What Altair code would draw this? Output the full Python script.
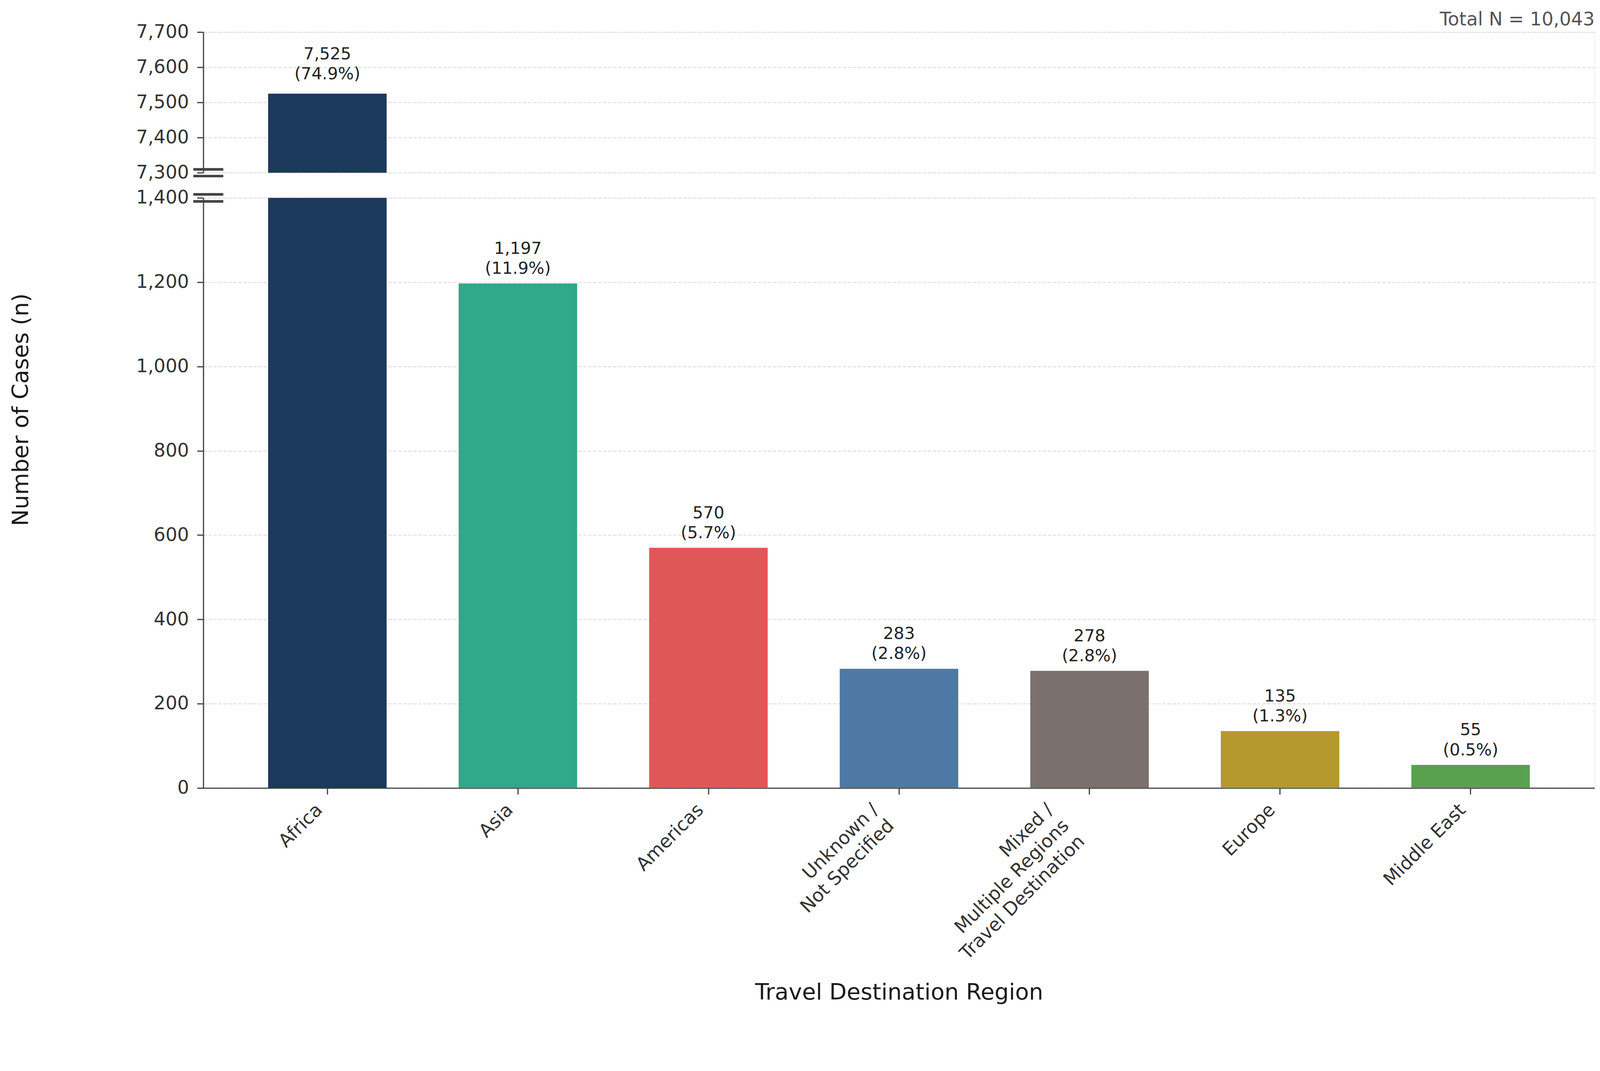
import altair as alt
import pandas as pd

# ---------------- data ----------------
regions = [
    "Africa",
    "Asia",
    "Americas",
    "Unknown / Not Specified",
    "Mixed / Multiple Regions / Travel Destination",
    "Europe",
    "Middle East",
]
tick_labels = [
    "Africa",
    "Asia",
    "Americas",
    "Unknown /|Not Specified",
    "Mixed /|Multiple Regions|Travel Destination",
    "Europe",
    "Middle East",
]
cases = [7525, 1197, 570, 283, 278, 135, 55]
percents = [74.9, 11.9, 5.7, 2.8, 2.8, 1.3, 0.5]
colors = ["#1b3a5c", "#30a88a", "#e05759", "#4e79a7", "#7a706d", "#b5992d", "#59a14f"]

lower_domain = [0, 1400]
upper_domain = [7300, 7700]
lower_ticks = [0, 200, 400, 600, 800, 1000, 1200, 1400]
upper_ticks = [7300, 7400, 7500, 7600, 7700]
total_n = sum(cases)

df = pd.DataFrame({"region": regions, "tick": tick_labels, "n": cases, "pct": percents})

# ---------------- layout / style ----------------
W = 3760
H_TOP = 380
H_BOT = 1595
GAP = 68
FONT = "DejaVu Sans"
AX = "#444444"
LBL = "#333333"

axis_style = dict(
    labelFont=FONT, labelFontSize=50, labelColor=LBL, labelPadding=22, labelLimit=400,
    tickSize=17, tickWidth=3.3, tickColor=AX,
    domainColor=AX, domainWidth=3.3,
    gridColor="#dddddd", gridDash=[9, 4.5], gridWidth=2.5,
    titleFont=FONT, titleFontSize=61, titleColor="#1a1a1a", titleFontWeight="normal",
)

xscale = alt.Scale(domain=regions, paddingInner=0.378, paddingOuter=0.34)
cscale = alt.Scale(domain=regions, range=colors)
label_expr = "[format(datum.n, ',d'), '(' + format(datum.pct, '.1f') + '%)']"

base = alt.Chart(df)
one = pd.DataFrame({"k": [0]})

# ---------------- upper panel ----------------
y_top = alt.Y(
    "n:Q",
    scale=alt.Scale(domain=upper_domain, nice=False, zero=False),
    axis=alt.Axis(values=upper_ticks, format=",d", title=None, grid=True, **axis_style),
)
x_top = alt.X("region:N", scale=xscale, sort=regions, axis=None)

top_bars = base.mark_bar(clip=True).encode(
    x=x_top, y=y_top, color=alt.Color("region:N", scale=cscale, legend=None)
)
top_text = (
    base.transform_filter(f"datum.n > {lower_domain[1]}")
    .transform_calculate(label=label_expr)
    .mark_text(baseline="bottom", dy=-84, fontSize=45, lineHeight=54, color="#222222", font=FONT)
    .encode(x=x_top, y=alt.Y("n:Q"), text="label:N")
)
total_text = (
    alt.Chart(pd.DataFrame({"t": [f"Total N = {total_n:,}"]}))
    .mark_text(align="right", baseline="alphabetic", fontSize=50, color="#555555", font=FONT)
    .encode(x=alt.value(W), y=alt.value(-18), text="t:N")
)
top_breaks = [
    alt.Chart(one)
    .mark_rule(strokeWidth=7, color=AX, yOffset=off)
    .encode(x=alt.value(-27), x2=alt.value(54), y=alt.datum(upper_domain[0]))
    for off in (-9, 9)
]
top = alt.layer(top_bars, top_text, total_text, *top_breaks).properties(width=W, height=H_TOP)

# ---------------- lower panel ----------------
y_bot = alt.Y(
    "n:Q",
    scale=alt.Scale(domain=lower_domain, nice=False),
    axis=alt.Axis(
        values=lower_ticks, format=",d", title="Number of Cases (n)", grid=True,
        titleX=-492, titleY=572, titleBaseline="middle", titleAlign="center", titleAngle=270,
        **axis_style,
    ),
)
x_bot = alt.X(
    "region:N", scale=xscale, sort=regions,
    axis=alt.Axis(
        labels=False, ticks=True, grid=False, title="Travel Destination Region",
        titleY=553, titleBaseline="middle", **axis_style,
    ),
)
x_plain = alt.X("region:N", scale=xscale, sort=regions)

bot_bars = base.mark_bar(clip=True).encode(
    x=x_bot, y=y_bot, color=alt.Color("region:N", scale=cscale, legend=None)
)
bot_text = (
    base.transform_filter(f"datum.n <= {lower_domain[1]}")
    .transform_calculate(label=label_expr)
    .mark_text(baseline="bottom", dy=-71, fontSize=45, lineHeight=54, color="#222222", font=FONT)
    .encode(x=x_plain, y=alt.Y("n:Q"), text="label:N")
)
tick_layers = []
for k, d in [(1, -27.5), (2, -57.5), (3, -87.5)]:
    tick_layers.append(
        base.transform_calculate(lines="split(datum.tick, '|')")
        .transform_filter(f"length(datum.lines) == {k}")
        .mark_text(angle=315, align="right", baseline="top", fontSize=50, lineHeight=60,
                   dx=d, dy=d, color=LBL, font=FONT)
        .encode(x=x_plain, y=alt.value(H_BOT + 34), text="lines:N")
    )
bot_breaks = [
    alt.Chart(one)
    .mark_rule(strokeWidth=7, color=AX, yOffset=off)
    .encode(x=alt.value(-27), x2=alt.value(54), y=alt.datum(lower_domain[1]))
    for off in (-9.5, 9.5)
]
bottom = alt.layer(bot_bars, bot_text, *tick_layers, *bot_breaks).properties(width=W, height=H_BOT)

chart = (
    alt.vconcat(top, bottom, spacing=GAP, bounds="flush")
    .properties(padding={"left": 17, "top": -54, "right": 5, "bottom": 5}, background="white")
    .configure_view(stroke=None)
    .configure(font=FONT)
)

chart.save("out.html", embed_options={"renderer": "svg", "actions": False})
